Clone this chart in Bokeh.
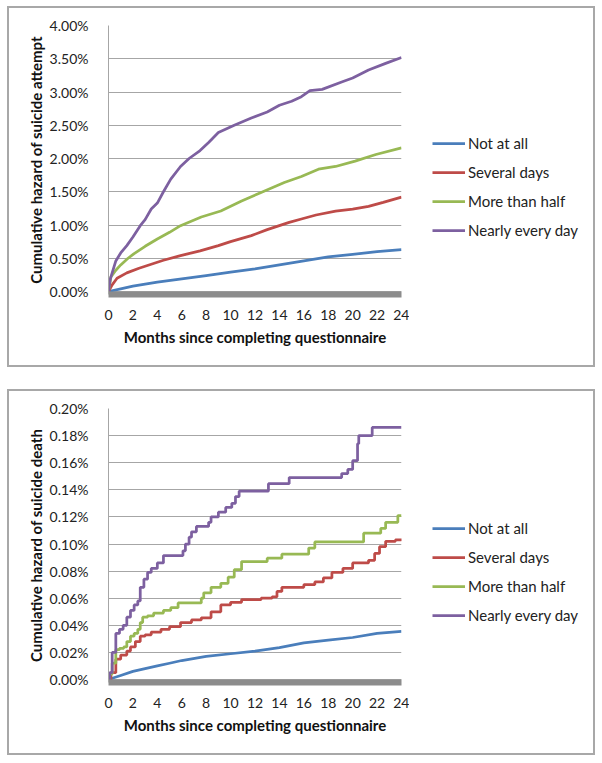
from bokeh.plotting import figure
from bokeh.models import (Legend, LegendItem, PrintfTickFormatter, FixedTicker,
                          Range1d, Column, Row)
from bokeh.embed import file_html
from bokeh.resources import INLINE

# ---------------- data ----------------
series_names = ["Not at all", "Several days", "More than half", "Nearly every day"]
series_colors = ["#4A7EBB", "#BE4B48", "#98B954", "#7D60A0"]
x_ticks = list(range(0, 25, 2))
attempt_ticks = [0.0, 0.5, 1.0, 1.5, 2.0, 2.5, 3.0, 3.5, 4.0]
death_ticks = [0.0, 0.02, 0.04, 0.06, 0.08, 0.10, 0.12, 0.14, 0.16, 0.18, 0.20]

# Cumulative hazard of suicide attempt (%)
att_not_m = [0, 1, 2, 4, 6, 8, 10, 12, 14, 16, 18, 20, 22, 24]
att_not_v = [0, 0.04, 0.08, 0.14, 0.19, 0.24, 0.29, 0.34, 0.40, 0.46, 0.52, 0.56, 0.60, 0.63]
att_sev_m = [0, 0.3, 0.7, 1.5, 2.5, 3.5, 4.5, 5.9, 7.5, 9, 10, 11.7, 13, 14.8, 15.8, 17,
             18.6, 20, 21.3, 22.5, 24]
att_sev_v = [0, 0.10, 0.20, 0.28, 0.35, 0.41, 0.47, 0.54, 0.61, 0.69, 0.75, 0.84, 0.93,
             1.04, 1.09, 1.15, 1.21, 1.24, 1.28, 1.34, 1.42]
att_half_m = [0, 0.2, 0.6, 1.0, 1.6, 2.1, 3, 4, 5, 5.9, 7.6, 9.2, 10.9, 12.5, 14.4, 15.8,
              17.2, 18.6, 20.2, 21.9, 24]
att_half_v = [0, 0.22, 0.32, 0.40, 0.50, 0.57, 0.68, 0.79, 0.89, 0.99, 1.12, 1.21, 1.36,
              1.49, 1.64, 1.73, 1.84, 1.88, 1.96, 2.06, 2.16]
att_every_m = [0, 0.15, 0.6, 1.0, 1.5, 2.0, 2.6, 3.0, 3.5, 4.0, 4.5, 5.1, 5.9, 6.6, 7.5,
               8.2, 9.0, 10.3, 11.7, 13, 14, 15, 15.8, 16.5, 17.5, 19.1, 20, 21.3, 22.7, 24]
att_every_v = [0, 0.19, 0.46, 0.58, 0.69, 0.82, 0.99, 1.08, 1.24, 1.33, 1.50, 1.69, 1.88,
               2.00, 2.12, 2.24, 2.39, 2.50, 2.61, 2.70, 2.80, 2.86, 2.93, 3.02, 3.04,
               3.15, 3.21, 3.33, 3.43, 3.52]

# Cumulative hazard of suicide death (%)
dth_not_m = [0, 1, 2, 3, 4, 5, 6, 8, 10, 12, 14, 16, 18, 20, 22, 24]
dth_not_v = [0, 0.003, 0.006, 0.008, 0.010, 0.012, 0.014, 0.017, 0.019, 0.021, 0.0235,
             0.027, 0.029, 0.031, 0.034, 0.0355]
dth_sev_m = [0, 0.2, 0.6, 1.0, 1.5, 1.8, 2.2, 2.6, 3.0, 3.5, 4.3, 5.0, 5.9, 6.8, 7.6, 8.4,
             9.2, 10.0, 10.9, 12.5, 13.4, 13.8, 14.2, 16.0, 16.9, 17.6, 18.3, 19.2, 20.0,
             21.3, 21.8, 22.2, 22.7, 23.5, 24]
dth_sev_v = [0, 0.005, 0.015, 0.018, 0.021, 0.024, 0.028, 0.032, 0.033, 0.035, 0.037,
             0.039, 0.042, 0.044, 0.0455, 0.050, 0.055, 0.057, 0.059, 0.060, 0.061, 0.065,
             0.068, 0.070, 0.072, 0.075, 0.079, 0.082, 0.086, 0.088, 0.093, 0.098, 0.102,
             0.103, 0.104]
dth_half_m = [0, 0.1, 0.3, 0.6, 0.9, 1.25, 1.5, 1.8, 2.1, 2.4, 2.6, 2.8, 3.2, 3.7, 4.5,
              5.1, 5.7, 7.6, 7.8, 8.4, 9.2, 9.8, 10.3, 10.9, 13.0, 14.2, 16.4, 16.9, 20.9,
              22.3, 22.7, 23.7, 24]
dth_half_v = [0, 0.004, 0.012, 0.022, 0.023, 0.024, 0.028, 0.032, 0.034, 0.037, 0.042,
              0.046, 0.047, 0.049, 0.051, 0.053, 0.0565, 0.060, 0.064, 0.068, 0.071,
              0.0755, 0.081, 0.087, 0.0895, 0.0925, 0.097, 0.1015, 0.108, 0.1115, 0.116,
              0.121, 0.121]
dth_every_m = [0, 0.1, 0.3, 0.6, 0.9, 1.2, 1.5, 1.8, 2.1, 2.4, 2.6, 2.9, 3.2, 3.5, 4.0,
               4.5, 6.1, 6.3, 6.6, 6.8, 7.2, 8.2, 8.4, 9.0, 9.6, 10.1, 10.4, 10.7, 13.1,
               14.8, 19.1, 19.6, 20.0, 20.4, 20.5, 21.6, 24]
dth_every_v = [0, 0.005, 0.020, 0.034, 0.037, 0.040, 0.046, 0.051, 0.055, 0.058, 0.068,
               0.074, 0.079, 0.082, 0.086, 0.0915, 0.095, 0.100, 0.105, 0.109, 0.113,
               0.116, 0.120, 0.1235, 0.127, 0.130, 0.135, 0.139, 0.1445, 0.149, 0.152,
               0.155, 0.1615, 0.174, 0.180, 0.186, 0.186]

FONT = "Lato"
GRID = "#a6a6a6"
BAR = "#8c8c8c"
BORDER = "2px solid #a8a8a8"
LW = 2.75
NAN = float("nan")


def make_panel(title, ticks, ymax, series, height, frame_h, legend_bottom):
    top, left, right = 17, 99, 10
    bottom = height - top - frame_h
    zero_px = 3  # half of the thick axis bar
    ymin = -ymax * zero_px / (frame_h - zero_px)
    p = figure(width=402, height=height, output_backend="svg", toolbar_location=None,
               x_range=Range1d(0, 24), y_range=Range1d(ymin, ymax),
               min_border_top=top, min_border_bottom=bottom, min_border_left=left,
               min_border_right=right,
               styles={"border-left": BORDER, "border-top": BORDER,
                       "border-bottom": BORDER})
    p.outline_line_color = None
    p.xgrid.grid_line_color = None
    p.ygrid.grid_line_color = GRID
    p.ygrid.grid_line_width = 1

    p.xaxis.ticker = FixedTicker(ticks=x_ticks)
    p.yaxis.ticker = FixedTicker(ticks=ticks)
    p.yaxis.formatter = PrintfTickFormatter(format="%.2f%%")
    for ax in (p.xaxis[0], p.yaxis[0]):
        ax.major_tick_line_color = None
        ax.minor_tick_line_color = None
        ax.major_label_text_font = FONT
        ax.major_label_text_font_size = "14px"
        ax.major_label_text_color = "#222222"
        ax.axis_label_text_font = FONT
        ax.axis_label_text_font_style = "bold"
        ax.axis_label_text_font_size = "15px"
        ax.axis_label_text_color = "#111111"
    p.yaxis.axis_line_color = GRID
    p.yaxis.axis_line_width = 1
    p.yaxis.major_label_standoff = 14
    p.yaxis.axis_label = title
    p.yaxis.axis_label_standoff = 2
    p.xaxis.axis_line_color = BAR
    p.xaxis.axis_line_width = 6
    p.xaxis.major_label_standoff = 9
    p.xaxis.axis_label = "Months since completing questionnaire"
    p.xaxis.axis_label_standoff = 5

    for (m, v, is_step), col in zip(series, series_colors):
        if is_step:
            p.step(m, v, mode="after", line_color=col, line_width=LW)
        else:
            p.line(m, v, line_color=col, line_width=LW)

    # legend area (right part of the bordered panel)
    lg = figure(width=186, height=height, output_backend="svg", toolbar_location=None,
                x_axis_type=None, y_axis_type=None, min_border=0,
                x_range=Range1d(0, 1), y_range=Range1d(0, 1),
                styles={"border-right": BORDER, "border-top": BORDER,
                        "border-bottom": BORDER})
    lg.outline_line_color = None
    items = []
    for name, col in zip(series_names, series_colors):
        r = lg.line(x=[NAN], y=[NAN], line_color=col, line_width=LW)
        items.append(LegendItem(label=name, renderers=[r]))
    legend = Legend(items=items, location=(23, legend_bottom))
    legend.label_text_font = FONT
    legend.label_text_font_size = "15px"
    legend.label_text_color = "#222222"
    legend.glyph_width = 33
    legend.glyph_height = 20
    legend.label_height = 20
    legend.spacing = 9
    legend.padding = 0
    legend.margin = 0
    legend.label_standoff = 3
    legend.border_line_color = None
    legend.background_fill_alpha = 0
    lg.add_layout(legend)
    return Row(children=[p, lg], spacing=0)


r1 = make_panel("Cumulative hazard of suicide attempt", attempt_ticks, 4.0,
                [(att_not_m, att_not_v, False), (att_sev_m, att_sev_v, False),
                 (att_half_m, att_half_v, False), (att_every_m, att_every_v, False)],
                361, 269, 54)
r2 = make_panel("Cumulative hazard of suicide death", death_ticks, 0.20,
                [(dth_not_m, dth_not_v, False), (dth_sev_m, dth_sev_v, True),
                 (dth_half_m, dth_half_v, True), (dth_every_m, dth_every_v, True)],
                366, 274, 57)

layout = Column(children=[r1, r2], spacing=22, styles={"margin": "6px 0 0 7px"})
open("out.html", "w").write(file_html(layout, INLINE))
